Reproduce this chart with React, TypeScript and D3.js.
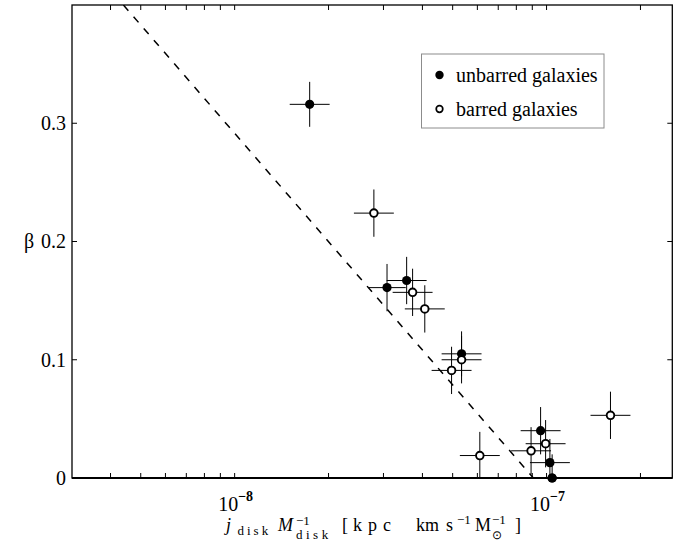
import React from "react";
import * as d3 from "d3";

// Unbarred galaxies: specific angular momentum of the disk vs beta
const unbarredJ = [1.74e-8, 3.08e-8, 3.56e-8, 5.34e-8, 9.57e-8, 1.025e-7, 1.042e-7];
const unbarredBeta = [0.316, 0.161, 0.167, 0.105, 0.04, 0.013, 0.0];
const unbarredJErrDex = [0.064, 0.06, 0.064, 0.064, 0.064, 0.064, 0.064];
const unbarredBetaErr = [0.019, 0.02, 0.02, 0.019, 0.02, 0.02, 0.02];

// Barred galaxies
const barredJ = [2.795e-8, 3.72e-8, 4.07e-8, 5.34e-8, 4.96e-8, 6.11e-8, 8.92e-8, 9.93e-8, 1.603e-7];
const barredBeta = [0.224, 0.157, 0.143, 0.1, 0.091, 0.019, 0.023, 0.029, 0.053];
const barredJErrDex = [0.064, 0.064, 0.064, 0.064, 0.064, 0.064, 0.064, 0.064, 0.064];
const barredBetaErr = [0.02, 0.02, 0.02, 0.02, 0.02, 0.02, 0.02, 0.02, 0.02];

// Dashed relation
const relationJ = [4.4e-9, 9.07e-8];
const relationBeta = [0.4, 0.0];

const xDomain = [3.01e-9, 2.53e-7];
const yDomain = [0, 0.4];
const xMinorTicks = [4e-9, 5e-9, 6e-9, 7e-9, 8e-9, 9e-9, 1e-8, 2e-8, 3e-8, 4e-8, 5e-8, 6e-8, 7e-8, 8e-8, 9e-8, 1e-7, 2e-7];
const xLabelTicks = [1e-8, 1e-7];
const xLabelExp = ["−8", "−7"];
const yTicks = [0, 0.1, 0.2, 0.3];
const yTickLabels = ["0", "0.1", "0.2", "0.3"];
const legendLabels = ["unbarred galaxies", "barred galaxies"];

const W = 691;
const H = 543;
const left = 72;
const right = 672.3;
const top = 5;
const bottom = 478;
const serif = "'Liberation Serif', 'Times New Roman', Times, serif";

export default function App() {
  const x = d3.scaleLog().domain(xDomain).range([left, right]);
  const y = d3.scaleLinear().domain(yDomain).range([bottom, top]);
  const tick = 5;

  const line = d3
    .line<number>()
    .x((_, i) => x(relationJ[i]))
    .y((d) => y(d));

  const bars = (js: number[], betas: number[], jErr: number[], bErr: number[], key: string) => (
    <g key={key} clipPath="url(#plotClip)">
      {js.map((j, i) => {
        const f = Math.pow(10, jErr[i]);
        return (
          <g key={i} stroke="#000" strokeWidth={1}>
            <line x1={x(j / f)} x2={x(j * f)} y1={y(betas[i])} y2={y(betas[i])} />
            <line x1={x(j)} x2={x(j)} y1={y(betas[i] - bErr[i])} y2={y(betas[i] + bErr[i])} />
          </g>
        );
      })}
    </g>
  );

  const markers = (js: number[], betas: number[], filled: boolean, key: string) => (
    <g key={key}>
      {js.map((j, i) =>
        filled ? (
          <circle key={i} cx={x(j)} cy={y(betas[i])} r={4.6} fill="#000" />
        ) : (
          <circle key={i} cx={x(j)} cy={y(betas[i])} r={3.8} fill="#fff" stroke="#000" strokeWidth={1.9} />
        )
      )}
    </g>
  );

  return (
    <svg
      width={W}
      height={H}
      style={{ position: "absolute", left: 0, top: 0, background: "#fff" }}
      fontFamily={serif}
    >
      <defs>
        <clipPath id="plotClip">
          <rect x={left} y={top} width={right - left} height={bottom - top} />
        </clipPath>
      </defs>
      <rect x={0} y={0} width={W} height={H} fill="#fff" />

      {/* ticks on all four sides */}
      <g stroke="#000" strokeWidth={1}>
        {xMinorTicks.map((t, i) => (
          <g key={i}>
            <line x1={x(t)} x2={x(t)} y1={bottom} y2={bottom - tick} />
            <line x1={x(t)} x2={x(t)} y1={top} y2={top + tick} />
          </g>
        ))}
        {yTicks.map((t, i) => (
          <g key={i}>
            <line x1={left} x2={left + tick} y1={y(t)} y2={y(t)} />
            <line x1={right} x2={right - tick} y1={y(t)} y2={y(t)} />
          </g>
        ))}
      </g>

      <path
        d={line(relationBeta) || ""}
        fill="none"
        stroke="#000"
        strokeWidth={1.5}
        strokeDasharray="7.5,8"
        clipPath="url(#plotClip)"
      />
      {bars(unbarredJ, unbarredBeta, unbarredJErrDex, unbarredBetaErr, "ub")}
      {markers(unbarredJ, unbarredBeta, true, "um")}
      {bars(barredJ, barredBeta, barredJErrDex, barredBetaErr, "bb")}
      {markers(barredJ, barredBeta, false, "bm")}

      {/* axes box */}
      <rect x={left} y={top} width={right - left} height={bottom - top} fill="none" stroke="#000" strokeWidth={1.3} />
      <line x1={left} x2={right} y1={bottom} y2={bottom} stroke="#000" strokeWidth={2} />
      {markers([unbarredJ[6]], [unbarredBeta[6]], true, "top")}

      {/* y tick labels */}
      {yTicks.map((t, i) => (
        <text key={i} x={66} y={y(t)} dy="0.34em" textAnchor="end" fontSize={20}>
          {yTickLabels[i]}
        </text>
      ))}

      {/* x tick labels */}
      {xLabelTicks.map((t, i) => (
        <text key={i} x={x(t) + 1} y={511} textAnchor="middle" fontSize={20}>
          10
          <tspan fontSize={14} dy={-10} fontWeight="bold">
            {xLabelExp[i]}
          </tspan>
        </text>
      ))}

      {/* axis labels */}
      <text x={29} y={y(0.2)} dy="0.34em" textAnchor="middle" fontSize={20}>
        β
      </text>
      <text fontSize={18}>
        <tspan x={226} y={531} fontStyle="italic">j</tspan>
        <tspan x={237.5} y={535} fontSize={13} letterSpacing={3}>disk</tspan>
        <tspan x={278} y={531} fontStyle="italic">M</tspan>
        <tspan x={296} y={525} fontSize={13}>−1</tspan>
        <tspan x={296} y={539} fontSize={13} letterSpacing={3.5}>disk</tspan>
        <tspan x={342} y={531}>[</tspan>
        <tspan x={353} y={531} letterSpacing={6}>kpc</tspan>
        <tspan x={416} y={531}>km</tspan>
        <tspan x={446} y={531}>s</tspan>
        <tspan x={457} y={524} fontSize={13}>−1</tspan>
        <tspan x={475} y={531}>M</tspan>
        <tspan x={492} y={524} fontSize={13}>−1</tspan>
        <tspan x={492} y={539} fontSize={12}>⊙</tspan>
        <tspan x={515} y={531}>]</tspan>
      </text>

      {/* legend */}
      <rect x={421.5} y={54} width={182.5} height={74} fill="#fff" stroke="#8c8c8c" strokeWidth={1} />
      <circle cx={439.5} cy={75} r={4.2} fill="#000" />
      <circle cx={439.5} cy={109} r={3.3} fill="#fff" stroke="#000" strokeWidth={1.7} />
      <text x={456} y={81.5} fontSize={20}>
        {legendLabels[0]}
      </text>
      <text x={456} y={115.5} fontSize={20}>
        {legendLabels[1]}
      </text>
    </svg>
  );
}
